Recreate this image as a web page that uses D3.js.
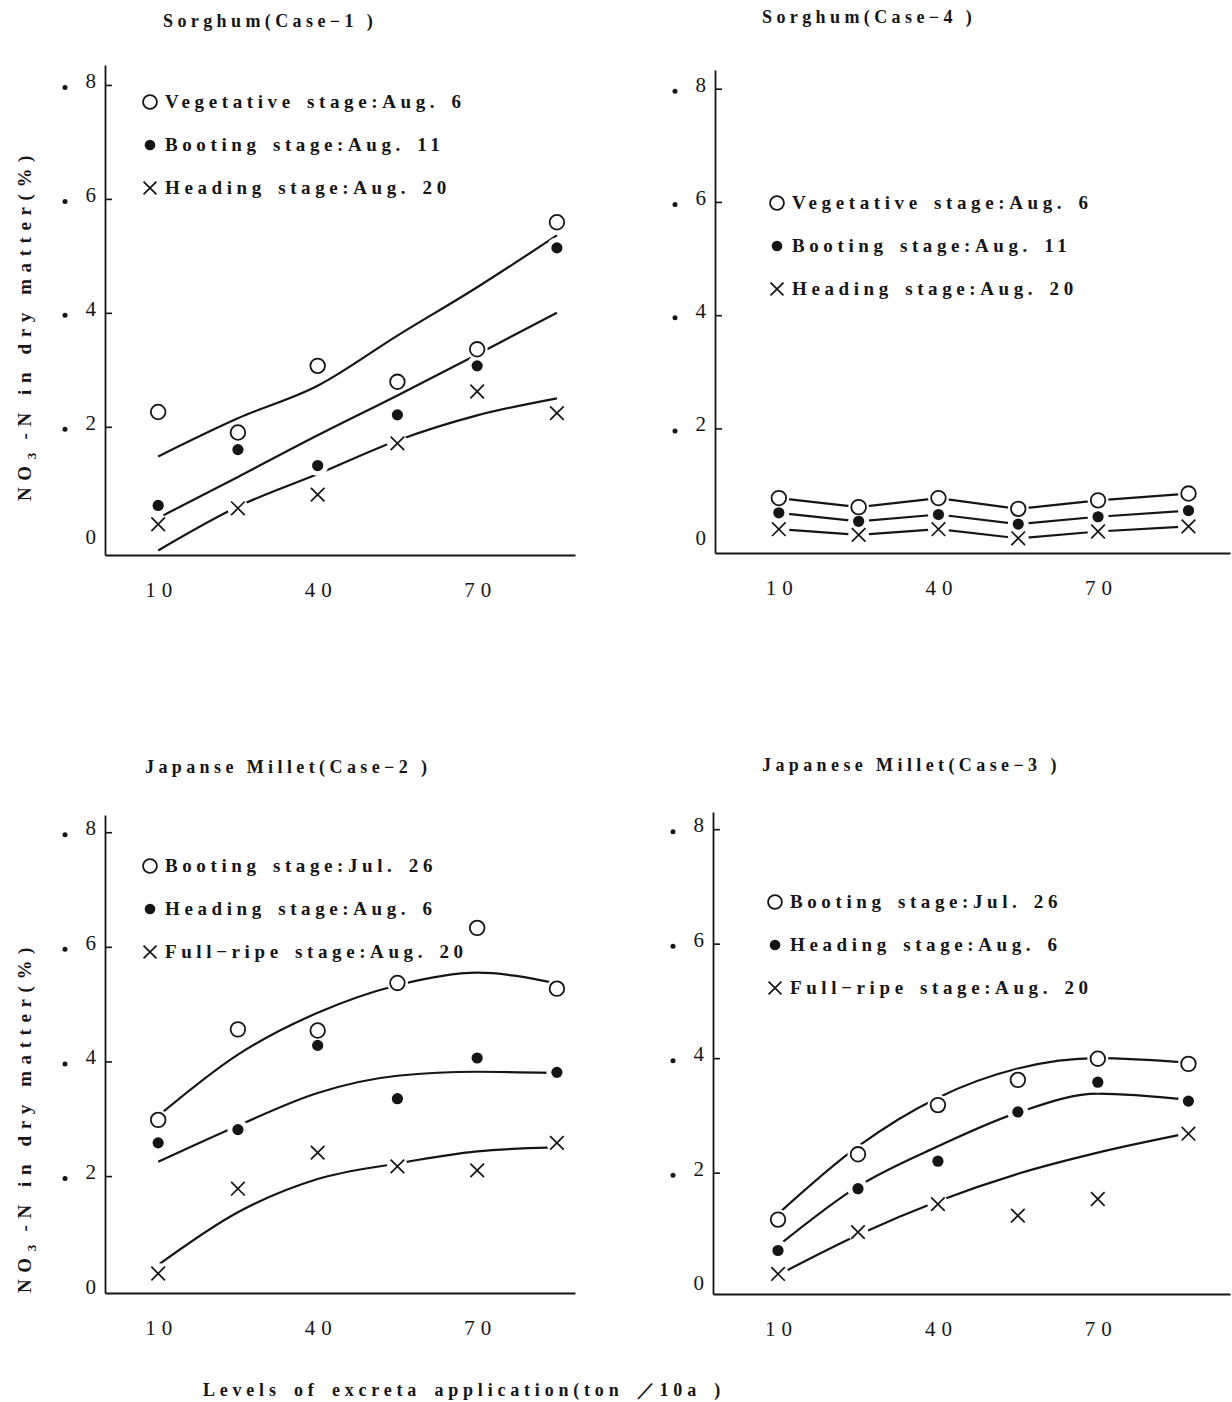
<!DOCTYPE html>
<html>
<head>
<meta charset="utf-8">
<script src="https://cdnjs.cloudflare.com/ajax/libs/d3/7.8.5/d3.min.js"></script>
<style>
  body { margin: 0; background: #fff; }
  text { font-family: "Liberation Serif", "DejaVu Serif", serif; fill: #151515; }
</style>
</head>
<body>
<div id="chart"></div>
<script>
// ---- data ----
var yTicks = [0, 2, 4, 6, 8];
var xTicks = [10, 40, 70];

var levels = [10, 25, 40, 55, 70, 85];
var levelsWide = [10, 25, 40, 55, 70, 87];

// Sorghum (Case-1)
var s1Vegetative = [2.26, 1.90, 3.07, 2.79, 3.36, 5.59];
var s1Booting = [0.62, 1.60, 1.32, 2.21, 3.07, 5.14];
var s1Heading = [0.29, 0.57, 0.81, 1.71, 2.62, 2.24];
var s1FitLevels = [10, 25, 40, 55, 70, 85];
var s1VegetativeFit = [1.48, 2.15, 2.72, 3.60, 4.45, 5.36];
var s1BootingFit = [0.40, 1.12, 1.85, 2.55, 3.27, 4.00];
var s1HeadingFit = [-0.17, 0.60, 1.17, 1.76, 2.20, 2.50];

// Sorghum (Case-4)
var s4Vegetative = [0.77, 0.61, 0.77, 0.58, 0.73, 0.85];
var s4Booting = [0.51, 0.36, 0.48, 0.31, 0.44, 0.55];
var s4Heading = [0.22, 0.12, 0.22, 0.06, 0.18, 0.27];

// Japanese Millet (Case-2)
var m2Booting = [2.98, 4.56, 4.54, 5.37, 6.33, 5.27];
var m2Heading = [2.58, 2.81, 4.28, 3.35, 4.06, 3.81];
var m2FullRipe = [0.30, 1.78, 2.41, 2.17, 2.10, 2.58];
var m2FitLevels = [10, 25, 40, 55, 70, 84];
var m2BootingFit = [3.05, 4.12, 4.85, 5.33, 5.55, 5.38];
var m2HeadingFit = [2.25, 2.88, 3.45, 3.75, 3.82, 3.80];
var m2FullRipeFit = [0.45, 1.37, 1.95, 2.22, 2.43, 2.50];

// Japanese Millet (Case-3)
var m3Booting = [1.18, 2.32, 3.18, 3.62, 3.99, 3.90];
var m3Heading = [0.64, 1.72, 2.20, 3.06, 3.58, 3.25];
var m3FullRipe = [0.23, 0.96, 1.45, 1.25, 1.54, 2.68];
var m3FitLevels = [10, 25, 40, 55, 70, 87];
var m3BootingFit = [1.28, 2.46, 3.31, 3.82, 4.00, 3.92];
var m3HeadingFit = [0.72, 1.76, 2.46, 3.05, 3.38, 3.27];
var m3FullRipeFit = [0.21, 0.91, 1.50, 1.98, 2.35, 2.69];

// ---- layout ----
var svg = d3.select("#chart").append("svg")
    .attr("width", 1232)
    .attr("height", 1402);

svg.append("rect").attr("width", 1232).attr("height", 1402).attr("fill", "#fff");

var panels = [
  {
    title: "Sorghum(Case−1 )", titleX: 163, titleY: 27,
    left: 105, right: 575, top: 65, bottom: 555,
    xDomain: [0, 88.4], yDomain: [-0.25, 8.35],
    legendX: 150, legendY: 102, yTitleY: 325,
    levels: levels, fitLevels: s1FitLevels, linear: false,
    series: [
      { shape: "open", values: s1Vegetative, fit: s1VegetativeFit, label: "Vegetative stage:Aug. 6" },
      { shape: "filled", values: s1Booting, fit: s1BootingFit, label: "Booting stage:Aug. 11" },
      { shape: "cross", values: s1Heading, fit: s1HeadingFit, label: "Heading stage:Aug. 20" }
    ]
  },
  {
    title: "Sorghum(Case−4 )", titleX: 762, titleY: 23,
    left: 715, right: 1230, top: 70, bottom: 553,
    xDomain: [-2, 94.8], yDomain: [-0.2, 8.33],
    legendX: 777, legendY: 203, yTitleY: null,
    levels: levelsWide, fitLevels: levelsWide, linear: true,
    series: [
      { shape: "open", values: s4Vegetative, fit: s4Vegetative, label: "Vegetative stage:Aug. 6" },
      { shape: "filled", values: s4Booting, fit: s4Booting, label: "Booting stage:Aug. 11" },
      { shape: "cross", values: s4Heading, fit: s4Heading, label: "Heading stage:Aug. 20" }
    ]
  },
  {
    title: "Japanse Millet(Case−2 )", titleX: 145, titleY: 773,
    left: 105, right: 575, top: 815, bottom: 1293,
    xDomain: [0, 88.4], yDomain: [-0.04, 8.3],
    legendX: 150, legendY: 866, yTitleY: 1117,
    levels: levels, fitLevels: m2FitLevels, linear: false,
    series: [
      { shape: "open", values: m2Booting, fit: m2BootingFit, label: "Booting stage:Jul. 26" },
      { shape: "filled", values: m2Heading, fit: m2HeadingFit, label: "Heading stage:Aug. 6" },
      { shape: "cross", values: m2FullRipe, fit: m2FullRipeFit, label: "Full−ripe stage:Aug. 20" }
    ]
  },
  {
    title: "Japanese Millet(Case−3 )", titleX: 762, titleY: 771,
    left: 713, right: 1230, top: 812, bottom: 1294,
    xDomain: [-2.2, 94.8], yDomain: [-0.12, 8.3],
    legendX: 775, legendY: 902, yTitleY: null,
    levels: levelsWide, fitLevels: m3FitLevels, linear: false,
    series: [
      { shape: "open", values: m3Booting, fit: m3BootingFit, label: "Booting stage:Jul. 26" },
      { shape: "filled", values: m3Heading, fit: m3HeadingFit, label: "Heading stage:Aug. 6" },
      { shape: "cross", values: m3FullRipe, fit: m3FullRipeFit, label: "Full−ripe stage:Aug. 20" }
    ]
  }
];

function drawMarker(g, shape, x, y, size) {
  if (shape == "open") {
    g.append("circle").attr("cx", x).attr("cy", y).attr("r", 7.3 * size)
      .attr("fill", "#fff").attr("stroke", "#151515").attr("stroke-width", 1.8);
  } else if (shape == "filled") {
    g.append("circle").attr("cx", x).attr("cy", y).attr("r", 5.6 * size)
      .attr("fill", "#151515");
  } else {
    var s = 6.8 * size;
    g.append("path")
      .attr("d", "M" + (x - s) + "," + (y - s) + "L" + (x + s) + "," + (y + s) +
                 "M" + (x - s) + "," + (y + s) + "L" + (x + s) + "," + (y - s))
      .attr("stroke", "#151515").attr("stroke-width", 1.7).attr("fill", "none");
  }
}

panels.forEach(function(p) {
  var g = svg.append("g");

  var x = d3.scaleLinear().domain(p.xDomain).range([p.left, p.right]);
  var y = d3.scaleLinear().domain(p.yDomain).range([p.bottom, p.top]);

  // title
  g.append("text")
    .text(p.title)
    .attr("x", p.titleX)
    .attr("y", p.titleY)
    .attr("font-size", 18)
    .attr("font-weight", "bold")
    .attr("letter-spacing", 4.4);

  // fitted lines
  var line = d3.line()
    .x(function(d) { return x(d[0]); })
    .y(function(d) { return y(d[1]); })
    .curve(p.linear ? d3.curveLinear : d3.curveMonotoneX);

  p.series.forEach(function(s) {
    g.append("path")
      .datum(p.fitLevels.map(function(l, i) { return [l, s.fit[i]]; }))
      .attr("d", line)
      .attr("fill", "none")
      .attr("stroke", "#151515")
      .attr("stroke-width", 2.2);
  });

  // white gaps round the markers
  p.series.forEach(function(s) {
    s.values.forEach(function(v, i) {
      g.append("circle")
        .attr("cx", x(p.levels[i]))
        .attr("cy", y(v))
        .attr("r", 10.5)
        .attr("fill", "#fff");
    });
  });

  p.series.forEach(function(s) {
    s.values.forEach(function(v, i) {
      drawMarker(g, s.shape, x(p.levels[i]), y(v), 1);
    });
  });

  // axes
  var yAxis = d3.axisLeft(y)
    .tickValues(yTicks)
    .tickSizeInner(-7)
    .tickSizeOuter(0)
    .tickPadding(9)
    .tickFormat(d3.format("d"));

  var ya = g.append("g")
    .attr("transform", "translate(" + p.left + ",0)")
    .call(yAxis);
  ya.select(".domain").attr("stroke", "#151515").attr("stroke-width", 1.8);
  ya.selectAll(".tick line").attr("stroke", "#151515").attr("stroke-width", 1.6)
    .filter(function(d) { return d == 0; }).remove();
  ya.selectAll(".tick text")
    .attr("font-size", 21)
    .attr("font-family", "Liberation Serif, serif")
    .attr("dy", "0.12em")
    .attr("fill", "#151515");
  ya.selectAll(".tick").filter(function(d) { return d != 0; })
    .append("circle")
    .attr("cx", -40)
    .attr("cy", 2)
    .attr("r", 2.5)
    .attr("fill", "#151515");

  var xAxis = d3.axisBottom(x)
    .tickValues(xTicks)
    .tickSize(0)
    .tickPadding(27)
    .tickFormat(d3.format("d"));

  var xa = g.append("g")
    .attr("transform", "translate(0," + p.bottom + ")")
    .call(xAxis);
  xa.select(".domain").attr("stroke", "#151515").attr("stroke-width", 1.8);
  xa.selectAll(".tick text")
    .attr("font-size", 21)
    .attr("font-family", "Liberation Serif, serif")
    .attr("letter-spacing", 6)
    .attr("dx", 3)
    .attr("fill", "#151515");

  // legend
  p.series.forEach(function(s, i) {
    var ly = p.legendY + i * 43;
    drawMarker(g, s.shape, p.legendX, ly, 0.95);
    g.append("text")
      .text(s.label)
      .attr("x", p.legendX + 15)
      .attr("y", ly + 6)
      .attr("font-size", 19)
      .attr("font-weight", "bold")
      .attr("letter-spacing", 4.6)
      .attr("word-spacing", 3);
  });

  // y axis title
  if (p.yTitleY) {
    var t = g.append("text")
      .attr("transform", "translate(31," + p.yTitleY + ") rotate(-90)")
      .attr("text-anchor", "middle")
      .attr("font-size", 19)
      .attr("font-weight", "bold")
      .attr("letter-spacing", 6.6);
    t.append("tspan").text("NO");
    t.append("tspan").text("3").attr("font-size", 13).attr("dy", 5).attr("letter-spacing", 2);
    t.append("tspan").text(" -N in dry matter(%)").attr("dy", -5);
  }
});

// x axis title
svg.append("text")
  .text("Levels of excreta application(ton ／10a )")
  .attr("x", 464)
  .attr("y", 1396)
  .attr("text-anchor", "middle")
  .attr("font-size", 18)
  .attr("font-weight", "bold")
  .attr("letter-spacing", 4.8)
  .attr("word-spacing", 4);
</script>
</body>
</html>
